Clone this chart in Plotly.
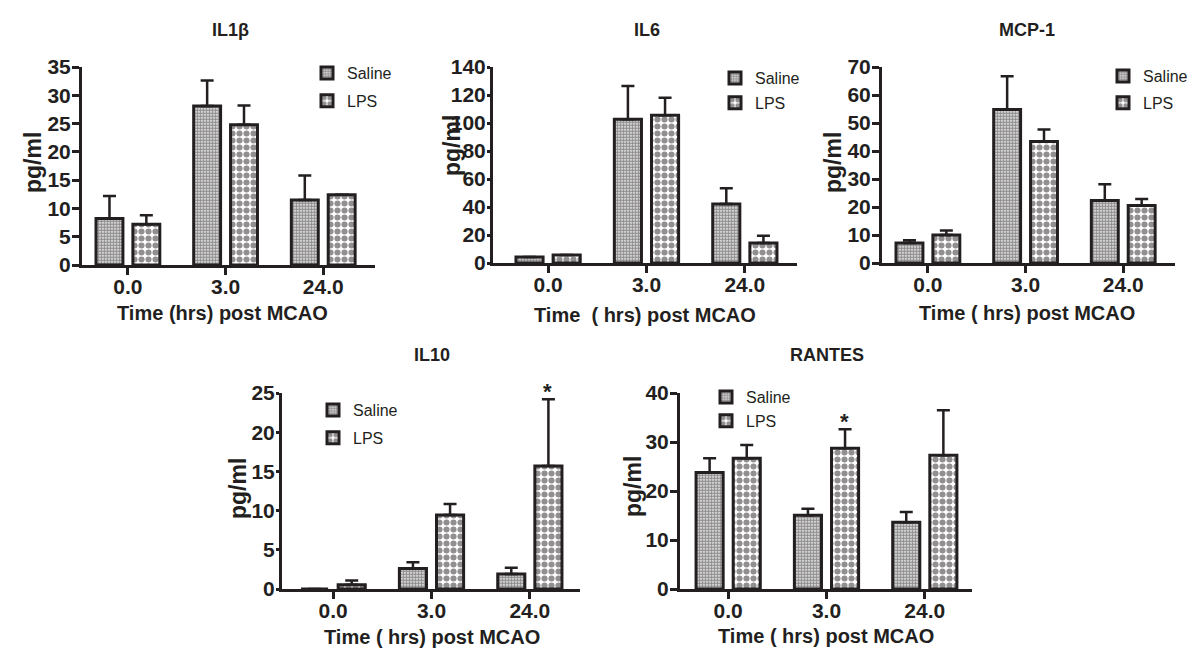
import plotly.graph_objects as go

# page body keeps its default 8px margin, so the figure is sized to fill the window exactly
PAGE_W, PAGE_H, BODY_MARGIN = 1200, 657, 8
W, H = PAGE_W - 2 * BODY_MARGIN, PAGE_H - 2 * BODY_MARGIN
INK = "#231f20"
FONT = "Arial, Liberation Sans, sans-serif"

times = ["0.0", "3.0", "24.0"]
groups = ["Saline", "LPS"]

panel_titles = ["IL1β", "IL6", "MCP-1", "IL10", "RANTES"]
x_titles = ["Time (hrs) post MCAO", "Time\u00a0 ( hrs) post MCAO", "Time ( hrs) post MCAO",
            "Time ( hrs) post MCAO", "Time ( hrs) post MCAO"]
y_title = "pg/ml"

il1b_saline = [8.2, 28.1, 11.5]
il1b_saline_err = [4.0, 4.5, 4.3]
il1b_lps = [7.2, 24.8, 12.4]
il1b_lps_err = [1.6, 3.4, 0.0]

il6_saline = [4.3, 102.7, 42.2]
il6_saline_err = [0.0, 23.8, 11.2]
il6_lps = [5.7, 105.6, 14.2]
il6_lps_err = [0.0, 12.4, 5.3]

mcp1_saline = [7.1, 54.8, 22.3]
mcp1_saline_err = [1.0, 11.9, 5.8]
mcp1_lps = [10.0, 43.4, 20.5]
mcp1_lps_err = [1.6, 4.3, 2.4]

il10_saline = [0.0, 2.6, 1.9]
il10_saline_err = [0.0, 0.8, 0.8]
il10_lps = [0.55, 9.45, 15.7]
il10_lps_err = [0.55, 1.4, 8.5]

rantes_saline = [23.8, 15.05, 13.6]
rantes_saline_err = [2.9, 1.35, 2.1]
rantes_lps = [26.7, 28.75, 27.3]
rantes_lps_err = [2.7, 3.85, 9.2]

y_max = [35, 140, 70, 25, 40]
y_step = [5, 20, 10, 5, 10]

# significance marks: (panel index, time index)
stars = [(3, 2), (4, 1)]

data = [
    (il1b_saline, il1b_saline_err, il1b_lps, il1b_lps_err),
    (il6_saline, il6_saline_err, il6_lps, il6_lps_err),
    (mcp1_saline, mcp1_saline_err, mcp1_lps, mcp1_lps_err),
    (il10_saline, il10_saline_err, il10_lps, il10_lps_err),
    (rantes_saline, rantes_saline_err, rantes_lps, rantes_lps_err),
]


def fx(px):
    return (px - BODY_MARGIN) / W


def fy(py):
    return 1 - (py - BODY_MARGIN) / H


# geometry in page pixels: (left, right, top, bottom)
boxes = [(82, 375, 67, 265), (493, 797, 67, 263), (882, 1175, 67, 263),
         (282, 580, 393, 589), (680, 972, 393, 589)]
x_ranges = [[-0.47, 2.53], [-0.56, 2.53], [-0.47, 2.53], [-0.52, 2.51], [-0.49, 2.48]]
y_ticklen = [7, 3, 7, 3, 7]
title_pos = [(230, 30), (647, 30), (1027, 30), (432, 355), (827, 355)]
xtitle_pos = [(222, 313), (645, 315), (1027, 313), (432, 637), (826, 636)]
ytitle_pos = [(33, 163), (452, 146), (833, 163), (238, 488), (633, 487)]
# legend: left x, top y, gap between entries
legend_pos = [(307, 56, 4), (715, 61, 1), (1103, 59, 3), (313, 393, 4), (706, 380, 0)]

patterns = {
    "Saline": dict(shape=".", size=3, solidity=0.75, fgcolor=INK, bgcolor="white"),
    "LPS": dict(shape=".", size=7, solidity=0.6, fgcolor=INK, bgcolor="white"),
}

fig = go.Figure()
annotations = []
layout = {}

for i, (s, se, l, le) in enumerate(data):
    n = "" if i == 0 else str(i + 1)
    xa, ya = "x" + n, "y" + n
    lg = "legend" + n
    for name, vals, errs in (("Saline", s, se), ("LPS", l, le)):
        fig.add_trace(go.Bar(
            x=times, y=vals, name=name, xaxis=xa, yaxis=ya,
            legend=lg, legendgroup=f"{i}_{name}",
            marker=dict(color="white", pattern=patterns[name],
                        line=dict(color=INK, width=3)),
            error_y=dict(type="data", array=errs, arrayminus=[0] * 3, symmetric=False,
                         color=INK, thickness=2.5, width=6.5),
            hoverinfo="x+y+name",
        ))
    left, right, top, bottom = boxes[i]
    layout["xaxis" + n] = dict(
        domain=[fx(left), fx(right)], anchor=ya, type="category",
        range=x_ranges[i], showline=True, linecolor=INK, linewidth=3,
        ticks="outside", ticklen=7, tickwidth=2.5, tickcolor=INK, ticklabelstandoff=-6,
        tickfont=dict(family=FONT, size=21, color=INK, weight="bold"),
        showgrid=False, zeroline=False, fixedrange=True, automargin=False,
    )
    layout["yaxis" + n] = dict(
        domain=[fy(bottom), fy(top)], anchor=xa,
        range=[0, y_max[i]], tickmode="linear", tick0=0, dtick=y_step[i],
        showline=True, linecolor=INK, linewidth=3,
        ticks="outside", ticklen=y_ticklen[i], tickwidth=2.5, tickcolor=INK, ticklabelstandoff=-3,
        tickfont=dict(family=FONT, size=21, color=INK, weight="bold"),
        showgrid=False, zeroline=False, fixedrange=True, automargin=False,
    )
    lx, ly, gap = legend_pos[i]
    layout[lg] = dict(
        x=fx(lx), y=fy(ly), xanchor="left", yanchor="top",
        bgcolor="rgba(0,0,0,0)", borderwidth=0, tracegroupgap=gap,
        font=dict(family=FONT, size=16, color=INK),
        itemclick=False, itemdoubleclick=False,
    )
    tx, ty = title_pos[i]
    annotations.append(dict(text=panel_titles[i], x=fx(tx), y=fy(ty), xref="paper", yref="paper",
                            showarrow=False, xanchor="center", yanchor="middle",
                            font=dict(family=FONT, size=18, color=INK, weight="bold")))
    tx, ty = xtitle_pos[i]
    annotations.append(dict(text=x_titles[i], x=fx(tx), y=fy(ty), xref="paper", yref="paper",
                            showarrow=False, xanchor="center", yanchor="middle",
                            font=dict(family=FONT, size=20, color=INK, weight="bold")))
    tx, ty = ytitle_pos[i]
    annotations.append(dict(text=y_title, x=fx(tx), y=fy(ty), xref="paper", yref="paper",
                            showarrow=False, xanchor="center", yanchor="middle", textangle=-90,
                            font=dict(family=FONT, size=23, color=INK, weight="bold")))

for (pi, ti) in stars:
    n = "" if pi == 0 else str(pi + 1)
    top_val = data[pi][2][ti] + data[pi][3][ti]
    annotations.append(dict(text="*", x=ti, y=top_val, xref="x" + n, yref="y" + n,
                            xshift=18, yshift=-7, showarrow=False, xanchor="center", yanchor="bottom",
                            font=dict(family=FONT, size=22, color=INK, weight="bold")))

fig.update_layout(
    **layout,
    annotations=annotations,
    barmode="group", bargap=0.245, bargroupgap=0.27,
    width=W, height=H, margin=dict(l=0, r=0, t=0, b=0, autoexpand=False),
    paper_bgcolor="white", plot_bgcolor="white",
    font=dict(family=FONT, color=INK),
    showlegend=True,
)

fig.write_html("out.html")
